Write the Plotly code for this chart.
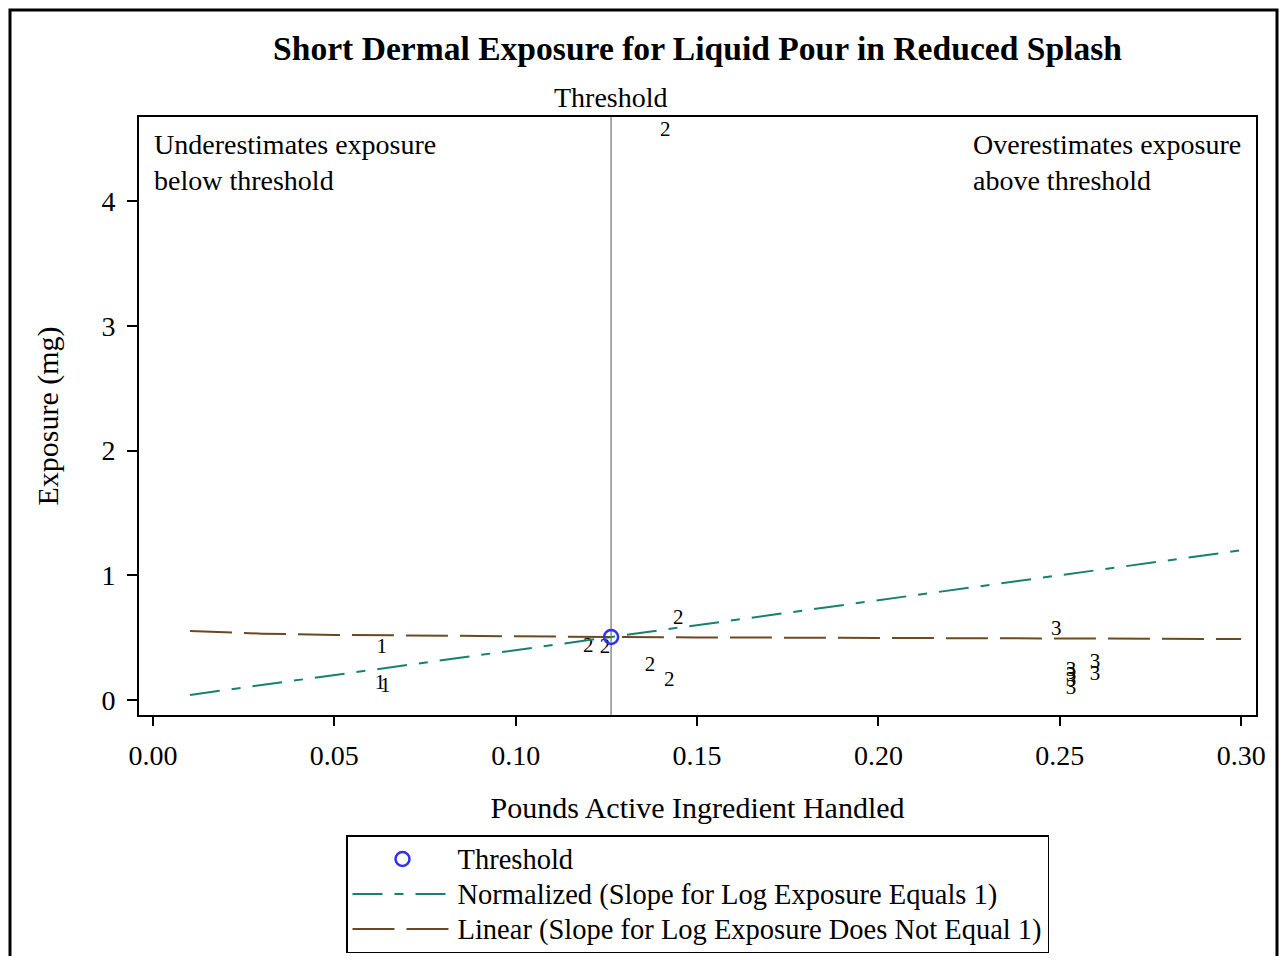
import plotly.graph_objects as go

# ---- data ----
threshold_x = [0.1263]
threshold_y = [0.505]

norm_x = [0.0102, 0.1263, 0.30]
norm_y = [0.041, 0.505, 1.20]

lin_x = [0.0102, 0.03, 0.05, 0.075, 0.10, 0.1263, 0.15, 0.20, 0.25, 0.30]
lin_y = [0.553, 0.532, 0.522, 0.515, 0.509, 0.505, 0.502, 0.497, 0.493, 0.489]

pts_x = [0.0631, 0.0626, 0.0640,
         0.1200, 0.1246, 0.1412, 0.1448, 0.1370, 0.1423,
         0.2490, 0.2531, 0.2531, 0.2531, 0.2531, 0.2597, 0.2597]
pts_y = [0.417, 0.128, 0.104,
         0.425, 0.417, 4.56, 0.649, 0.273, 0.152,
         0.561, 0.232, 0.192, 0.152, 0.088, 0.297, 0.200]
pts_lab = ["1", "1", "1",
           "2", "2", "2", "2", "2", "2",
           "3", "3", "3", "3", "3", "3", "3"]

x_ticks = [0.00, 0.05, 0.10, 0.15, 0.20, 0.25, 0.30]
x_tick_text = ["0.00", "0.05", "0.10", "0.15", "0.20", "0.25", "0.30"]
y_ticks = [0, 1, 2, 3, 4]

legend_names = ["Threshold",
                "Normalized (Slope for Log Exposure Equals 1)",
                "Linear (Slope for Log Exposure Does Not Equal 1)"]

FONT = "Liberation Serif"
TEAL = "#17806f"
BROWN = "#6b4a22"

# page body adds an 8px margin; figure is sized/placed so the page fits the window
W, H = 1280, 948
L, T, R = 131, 109, 32
B = H - (715 - 8)
PW, PH = W - L - R, H - T - B


def px(xp):
    return (xp - 8 - L) / PW


def py(yp):
    return (H - B - (yp - 8)) / PH


def big(s):
    return '<span style="font-size:28.5px">' + s + '</span>'


fig = go.Figure()

fig.add_trace(go.Scatter(
    x=pts_x, y=pts_y, mode="text", text=pts_lab,
    textposition="middle center",
    textfont=dict(family=FONT, size=21, color="black"),
    showlegend=False, hoverinfo="skip"))

fig.add_trace(go.Scatter(
    x=norm_x, y=norm_y, mode="lines", legendrank=2,
    name=big(legend_names[1]),
    line=dict(color=TEAL, width=2, dash="30px,12px,9px,12px")))

fig.add_trace(go.Scatter(
    x=lin_x, y=lin_y, mode="lines", legendrank=3,
    name=big(legend_names[2]),
    line=dict(color=BROWN, width=2, dash="42px,12px")))

fig.add_trace(go.Scatter(
    x=threshold_x, y=threshold_y, mode="markers", name=big(legend_names[0]),
    legendrank=1,
    marker=dict(symbol="circle-open", size=14, color="#3030ee",
                line=dict(width=2.5, color="#3030ee"))))

# threshold vertical line
fig.add_shape(type="line", xref="x", yref="paper",
              x0=threshold_x[0], x1=threshold_x[0], y0=0, y1=1,
              line=dict(color="#8c8c8c", width=1.5), layer="below")

# outer border
fig.add_shape(type="rect", xref="paper", yref="paper",
              x0=px(10), x1=px(1277), y0=py(990), y1=py(10),
              line=dict(color="black", width=3))

fig.add_annotation(x=threshold_x[0], y=py(98), xref="x", yref="paper",
                   text="Threshold", showarrow=False,
                   font=dict(family=FONT, size=28, color="black"),
                   xanchor="center", yanchor="middle")

fig.add_annotation(x=px(152), y=py(127), xref="paper", yref="paper",
                   text="Underestimates exposure<br>below threshold", showarrow=False,
                   align="left", xanchor="left", yanchor="top",
                   font=dict(family=FONT, size=28, color="black"))
fig.add_annotation(x=px(971), y=py(127), xref="paper", yref="paper",
                   text="Overestimates exposure<br>above threshold", showarrow=False,
                   align="left", xanchor="left", yanchor="top",
                   font=dict(family=FONT, size=28, color="black"))

fig.update_layout(
    width=W, height=H,
    margin=dict(l=L, r=R, t=T, b=B, autoexpand=False),
    paper_bgcolor="white", plot_bgcolor="white",
    font=dict(family=FONT, size=28, color="black"),
    title=dict(text="<b>Short Dermal Exposure for Liquid Pour in Reduced Splash</b>",
               x=0.5, xref="paper", xanchor="center",
               y=1 - (48 - 8) / H, yref="container", yanchor="middle",
               font=dict(family=FONT, size=33.6, color="black")),
    xaxis=dict(range=[-0.00386, 0.3041], tickvals=x_ticks, ticktext=x_tick_text,
               showgrid=False, zeroline=False, showline=True, mirror=True,
               linecolor="black", linewidth=2, ticks="outside", ticklen=9,
               tickwidth=2, tickcolor="black", ticklabelstandoff=5,
               tickfont=dict(family=FONT, size=28),
               title=dict(text="Pounds Active Ingredient Handled", standoff=27,
                          font=dict(family=FONT, size=30))),
    yaxis=dict(range=[-0.12, 4.673], tickvals=y_ticks,
               showgrid=False, zeroline=False, showline=True, mirror=True,
               linecolor="black", linewidth=2, ticks="outside", ticklen=10,
               tickwidth=2, tickcolor="black", ticklabelstandoff=6,
               tickfont=dict(family=FONT, size=28),
               title=dict(text="Exposure (mg)", standoff=34,
                          font=dict(family=FONT, size=30))),
    legend=dict(x=0.5, xanchor="center", y=py(835), yanchor="top",
                xref="paper", yref="paper",
                bordercolor="black", borderwidth=1.5, bgcolor="white",
                itemwidth=100,
                font=dict(family=FONT, size=24.6, color="black")),
)

fig.write_html("out.html")
